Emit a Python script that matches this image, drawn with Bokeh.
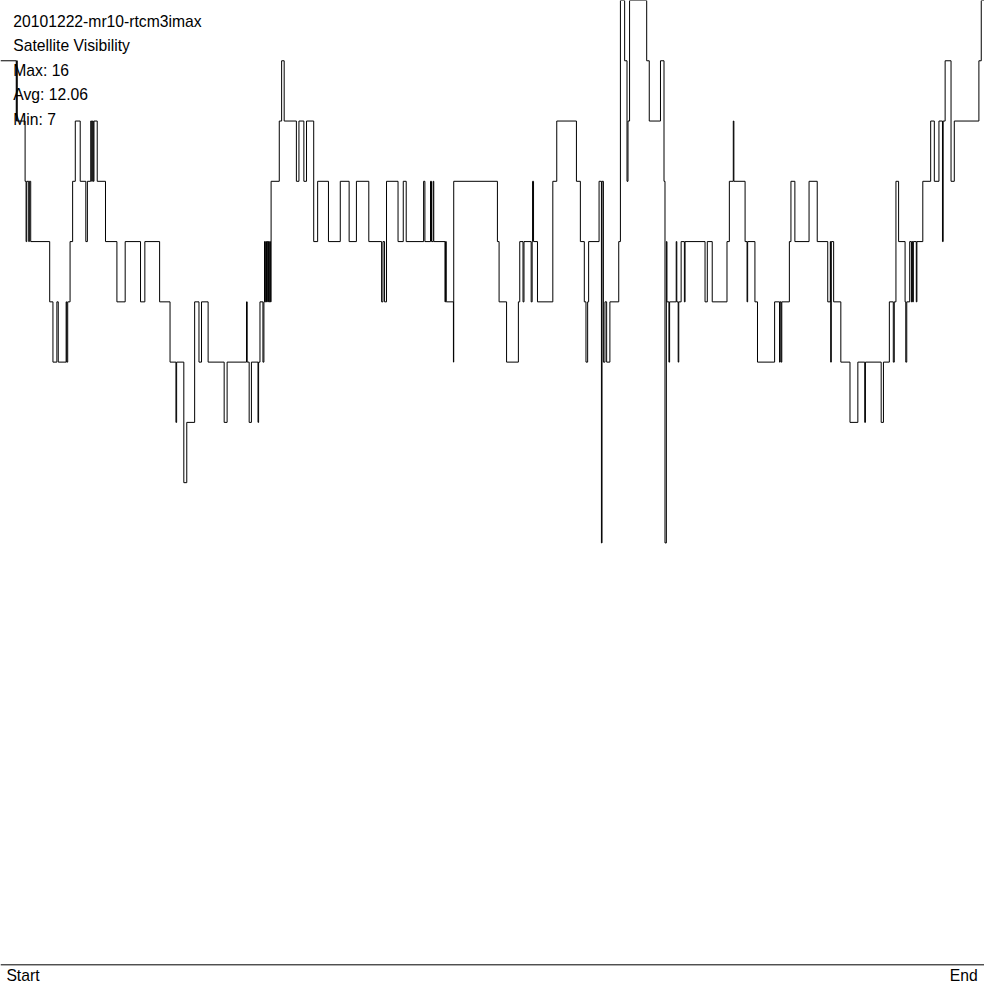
from bokeh.plotting import figure
from bokeh.models import ColumnDataSource, Range1d, Span, Label
from bokeh.embed import file_html
from bokeh.resources import INLINE

# ---- data: satellite count over time (step series) ----
t = [0, 16, 16.5, 17, 25, 26, 26.7, 28.7, 29.3, 30.7,
     50, 53.3, 57.3, 58.7, 66.7, 67.3, 68.3, 70.7, 73.3, 76,
     81, 86.7, 88.3, 91.7, 92.7, 93.3, 94.3, 95, 98.3, 106.7,
     118.3, 126.7, 142.3, 146.7, 161.7, 172.3, 178.3, 179, 186.3, 189.3,
     197.3, 201.7, 204.3, 211, 227.3, 230.3, 250, 250.7, 252.7, 255,
     261.7, 262.3, 263.7, 266.7, 267.7, 268.3, 269, 269.7, 270.3, 271,
     271.7, 272.3, 273, 273.7, 274.3, 275, 283.3, 285.7, 288.3, 300.7,
     303.3, 308.3, 311, 318.3, 322.3, 333.3, 345.3, 354.3, 361.7, 374.3,
     387.3, 388.7, 390.3, 392.3, 404, 409.3, 412.3, 430, 431.3, 437,
     438, 439.7, 440.3, 451.7, 452.3, 453, 460.3, 460.6, 505, 506.7,
     514.3, 526.3, 527.7, 531, 532, 539.3, 540.3, 540.7, 541.7, 545.7,
     561.3, 565.3, 585.3, 589.3, 593.3, 595, 596.7, 597.7, 608.3, 610.7,
     611.3, 612.7, 614.3, 616, 619.3, 628.3, 630, 634.3, 636.7, 637.7,
     639.3, 656.7, 659.3, 670.7, 674.3, 675.3, 676.7, 677.3, 679.3, 680,
     686.7, 687.3, 688.7, 689.3, 691.7, 695, 695.7, 716, 718.3, 723.3,
     738.3, 740.7, 744.7, 745.3, 756.7, 758.7, 759.3, 766.7, 769.3, 786.7,
     791.7, 792.3, 793.3, 794, 801.7, 803.3, 807.3, 821.7, 830, 840.7,
     843.3, 843.7, 844.3, 846.7, 854, 863.3, 871.3, 878.3, 879, 895,
     897.3, 903.3, 907.3, 908.3, 910, 912.7, 919.3, 920, 921, 924,
     925.7, 926.3, 927, 927.7, 930.7, 931.3, 937.3, 945.3, 949, 953.7,
     957.3, 958, 960, 966, 969.3, 994.3, 996.7, 1000]

sats = [15, 14, 15, 14, 13, 12, 13, 12, 13, 12,
        11, 10, 11, 10, 11, 10, 11, 12, 13, 14,
        13, 12, 13, 14, 13, 14, 13, 14, 13, 12,
        11, 12, 11, 12, 11, 10, 9, 10, 8, 9,
        11, 10, 11, 10, 9, 10, 11, 10, 9, 10,
        9, 10, 11, 10, 11, 12, 11, 12, 11, 12,
        11, 12, 11, 12, 11, 13, 14, 15, 14, 13,
        14, 13, 14, 12, 13, 12, 13, 12, 13, 12,
        11, 12, 11, 13, 12, 13, 12, 13, 12, 13,
        12, 13, 12, 11, 12, 11, 10, 13, 12, 11,
        10, 11, 12, 11, 12, 11, 12, 13, 12, 11,
        13, 14, 13, 12, 11, 10, 11, 12, 13, 7,
        13, 10, 11, 10, 11, 12, 16, 15, 13, 14,
        16, 15, 14, 15, 13, 7, 12, 11, 10, 11,
        12, 11, 10, 11, 12, 11, 12, 11, 12, 11,
        12, 13, 14, 13, 12, 11, 12, 11, 10, 11,
        10, 11, 10, 11, 12, 13, 12, 13, 12, 11,
        12, 10, 12, 11, 10, 9, 10, 9, 10, 9,
        10, 11, 10, 11, 13, 12, 11, 10, 11, 12,
        11, 12, 11, 12, 11, 12, 13, 14, 13, 14,
        12, 14, 15, 13, 14, 15, 16, 16]

title_lines = ["20101222-mr10-rtcm3imax", "Satellite Visibility",
               "Max: 16", "Avg: 12.06", "Min: 7"]
x_labels = ["Start", "End"]

# ---- layout: reference is a 1000x1000 canvas, drawn here at 984x984 ----
SIZE = 984
K = SIZE / 1000.0
PX_PER_SAT = 61.25   # reference pixels per satellite
BASE_Y = 980.0       # reference pixel row of the zero line


def vy(py):
    return (BASE_Y - py) / PX_PER_SAT


src = ColumnDataSource(dict(t=t, sats=sats))

p = figure(width=SIZE, height=SIZE,
           x_range=Range1d(0, 1000), y_range=Range1d(vy(1000), vy(0)),
           x_axis_type=None, y_axis_type=None,
           output_backend="svg", toolbar_location=None, min_border=0)
p.grid.visible = False
p.outline_line_color = None
p.background_fill_color = "white"
p.border_fill_color = "white"

p.step(x="t", y="sats", source=src, mode="after",
       line_color="black", line_width=1)

p.add_layout(Span(location=0, dimension="width", line_color="black", line_width=1))

FONT = "Liberation Sans"
FS = "%.1fpx" % (16 * K)
for i, txt in enumerate(title_lines):
    p.add_layout(Label(x=13, y=vy(21 + 25 * i), text=txt,
                       text_font=FONT, text_font_size=FS,
                       text_color="black", text_baseline="alphabetic",
                       text_align="left"))

p.add_layout(Label(x=6, y=vy(990.5), text=x_labels[0], text_font=FONT,
                   text_font_size=FS, text_color="black",
                   text_baseline="alphabetic", text_align="left"))
p.add_layout(Label(x=993, y=vy(990.5), text=x_labels[1], text_font=FONT,
                   text_font_size=FS, text_color="black",
                   text_baseline="alphabetic", text_align="right"))

open("out.html", "w").write(file_html(p, INLINE))
